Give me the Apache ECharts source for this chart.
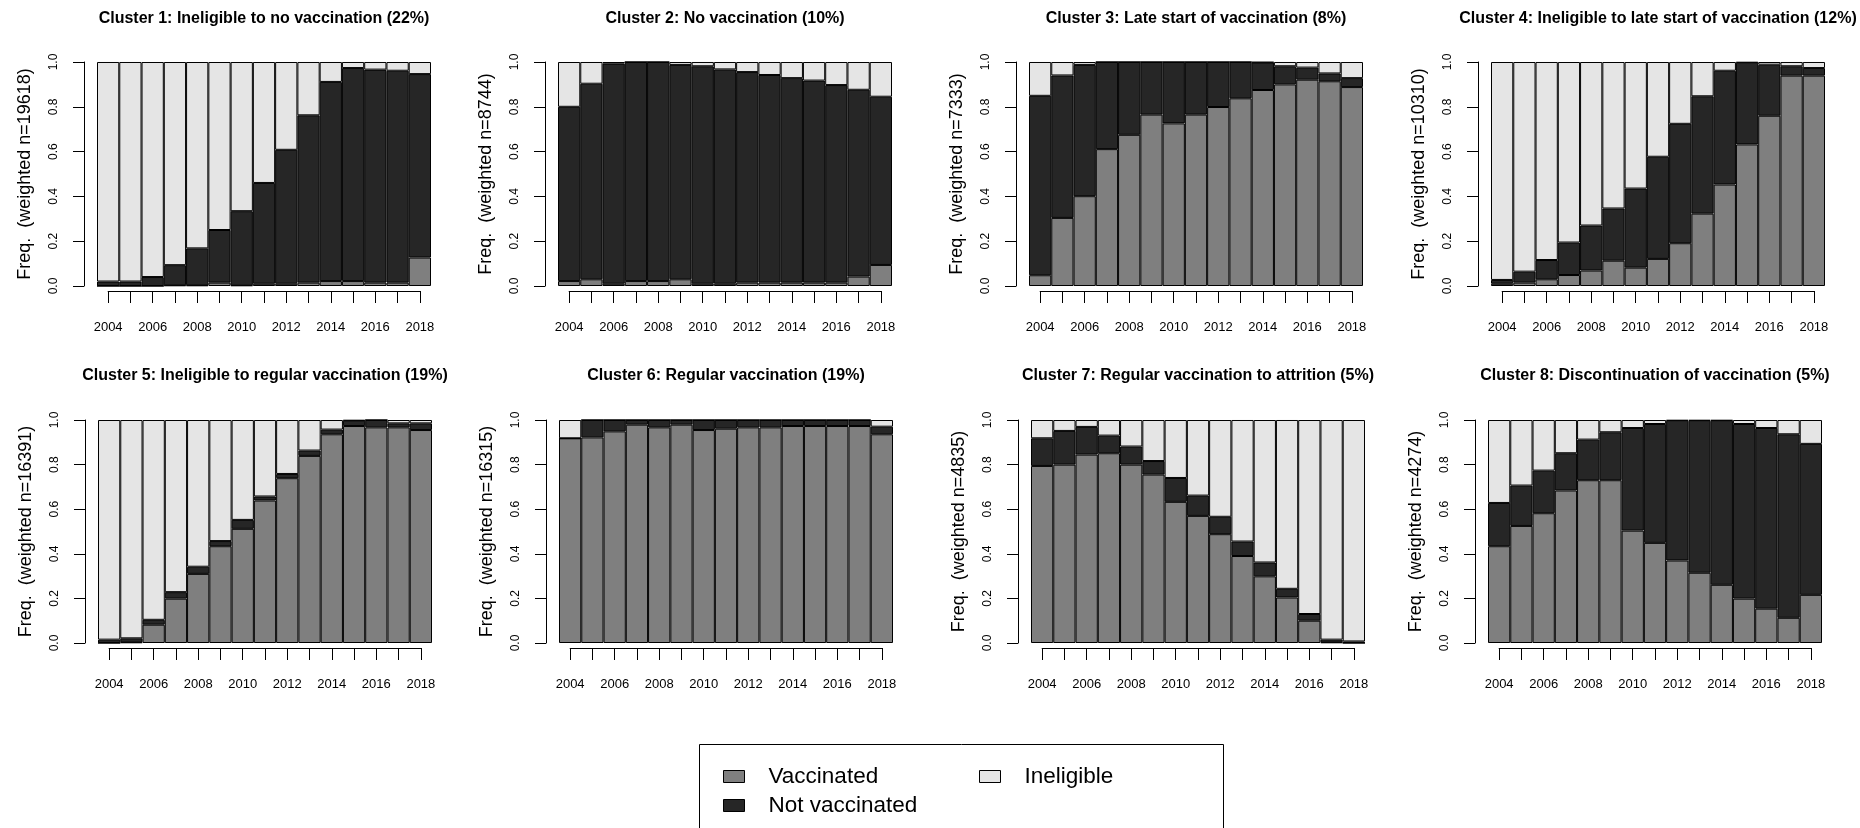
<!DOCTYPE html>
<html>
<head>
<meta charset="utf-8">
<script src="https://cdn.jsdelivr.net/npm/echarts/dist/echarts.min.js"></script>
<style>
  html, body { margin: 0; padding: 0; background: #fff; }
  #chart { width: 1860px; height: 828px; }
</style>
</head>
<body>
<div id="chart"></div>
<script>
// ---------- DATA ----------
const years = ['2004','2005','2006','2007','2008','2009','2010','2011','2012','2013','2014','2015','2016','2017','2018'];
const yTicks = [0, 0.2, 0.4, 0.6, 0.8, 1.0];
const stateNames = ['Vaccinated', 'Not vaccinated', 'Ineligible'];

const clusterTitles = [
  'Cluster 1: Ineligible to no vaccination (22%)',
  'Cluster 2: No vaccination (10%)',
  'Cluster 3: Late start of vaccination (8%)',
  'Cluster 4: Ineligible to late start of vaccination (12%)',
  'Cluster 5: Ineligible to regular vaccination (19%)',
  'Cluster 6: Regular vaccination (19%)',
  'Cluster 7: Regular vaccination to attrition (5%)',
  'Cluster 8: Discontinuation of vaccination (5%)'
];
const weightedN = [19618, 8744, 7333, 10310, 16391, 16315, 4835, 4274];

const c1Vaccinated    = [0.000,0.000,0.000,0.003,0.003,0.015,0.003,0.010,0.010,0.015,0.022,0.022,0.015,0.015,0.127];
const c1NotVaccinated = [0.020,0.020,0.040,0.090,0.165,0.235,0.331,0.450,0.598,0.747,0.889,0.951,0.951,0.946,0.819];
const c1Ineligible    = [0.980,0.980,0.960,0.907,0.832,0.750,0.666,0.540,0.392,0.238,0.089,0.027,0.034,0.039,0.054];

const c2Vaccinated    = [0.022,0.030,0.010,0.022,0.022,0.030,0.010,0.010,0.015,0.015,0.015,0.015,0.015,0.042,0.094];
const c2NotVaccinated = [0.778,0.873,0.983,0.978,0.978,0.957,0.971,0.957,0.940,0.927,0.913,0.902,0.882,0.834,0.751];
const c2Ineligible    = [0.200,0.097,0.007,0.000,0.000,0.013,0.019,0.033,0.045,0.058,0.072,0.083,0.103,0.124,0.155];

const c3Vaccinated    = [0.048,0.304,0.401,0.611,0.675,0.765,0.726,0.765,0.799,0.838,0.875,0.900,0.921,0.914,0.888];
const c3NotVaccinated = [0.801,0.636,0.586,0.389,0.325,0.235,0.274,0.235,0.201,0.162,0.123,0.081,0.054,0.035,0.040];
const c3Ineligible    = [0.151,0.060,0.013,0.000,0.000,0.000,0.000,0.000,0.000,0.000,0.002,0.019,0.025,0.051,0.072];

const c4Vaccinated    = [0.010,0.015,0.030,0.049,0.069,0.113,0.082,0.121,0.191,0.323,0.453,0.632,0.760,0.939,0.939];
const c4NotVaccinated = [0.017,0.049,0.086,0.145,0.201,0.233,0.353,0.456,0.533,0.524,0.508,0.365,0.228,0.042,0.034];
const c4Ineligible    = [0.973,0.936,0.884,0.806,0.730,0.654,0.565,0.423,0.276,0.153,0.039,0.003,0.012,0.019,0.027];

const c5Vaccinated    = [0.000,0.003,0.082,0.199,0.310,0.434,0.512,0.639,0.739,0.839,0.936,0.973,0.967,0.967,0.955];
const c5NotVaccinated = [0.015,0.018,0.022,0.029,0.032,0.023,0.040,0.018,0.019,0.024,0.021,0.024,0.033,0.018,0.030];
const c5Ineligible    = [0.985,0.979,0.896,0.772,0.658,0.543,0.448,0.343,0.242,0.137,0.043,0.003,0.000,0.015,0.015];

const c6Vaccinated    = [0.918,0.922,0.949,0.979,0.967,0.979,0.955,0.961,0.967,0.967,0.973,0.973,0.973,0.973,0.936];
const c6NotVaccinated = [0.000,0.078,0.051,0.021,0.033,0.021,0.045,0.039,0.033,0.033,0.027,0.027,0.027,0.027,0.034];
const c6Ineligible    = [0.082,0.000,0.000,0.000,0.000,0.000,0.000,0.000,0.000,0.000,0.000,0.000,0.000,0.000,0.030];

const c7Vaccinated    = [0.794,0.800,0.845,0.851,0.800,0.755,0.633,0.570,0.488,0.390,0.299,0.204,0.100,0.003,0.000];
const c7NotVaccinated = [0.124,0.151,0.124,0.079,0.081,0.061,0.107,0.091,0.078,0.065,0.062,0.039,0.030,0.012,0.007];
const c7Ineligible    = [0.082,0.049,0.031,0.070,0.119,0.184,0.260,0.339,0.434,0.545,0.639,0.757,0.870,0.985,0.993];

const c8Vaccinated    = [0.434,0.525,0.582,0.684,0.730,0.730,0.504,0.449,0.370,0.315,0.261,0.199,0.154,0.113,0.216];
const c8NotVaccinated = [0.194,0.181,0.191,0.167,0.182,0.215,0.460,0.533,0.627,0.682,0.736,0.783,0.810,0.823,0.677];
const c8Ineligible    = [0.372,0.294,0.227,0.149,0.088,0.055,0.036,0.018,0.003,0.003,0.003,0.018,0.036,0.064,0.107];

const clusters = [
  [c1Vaccinated, c1NotVaccinated, c1Ineligible],
  [c2Vaccinated, c2NotVaccinated, c2Ineligible],
  [c3Vaccinated, c3NotVaccinated, c3Ineligible],
  [c4Vaccinated, c4NotVaccinated, c4Ineligible],
  [c5Vaccinated, c5NotVaccinated, c5Ineligible],
  [c6Vaccinated, c6NotVaccinated, c6Ineligible],
  [c7Vaccinated, c7NotVaccinated, c7Ineligible],
  [c8Vaccinated, c8NotVaccinated, c8Ineligible]
];

// ---------- STYLE / LAYOUT ----------
const FONT = '"Liberation Sans", Arial, sans-serif';
const stateColors = ['#7f7f7f', '#262626', '#e5e5e5'];
const plotLeft  = [97, 558, 1029, 1491, 98, 559, 1031, 1488];
const plotWidth = 334;
const rowTop    = [62, 420];
const rowHeight = [224, 223];
const xAxisLineY = [291, 648];
const titleY = [11, 368];
const yAxisOffset = 13;

const chart = echarts.init(document.getElementById('chart'), null, { renderer: 'canvas' });

const grid = [], xAxis = [], yAxis = [], series = [], title = [];
clusters.forEach((cl, k) => {
  const row = k < 4 ? 0 : 1;
  const L = plotLeft[k];
  const W = plotWidth;
  const bw = W / years.length;
  // plot grid
  grid.push({ left: L, top: rowTop[row], width: W, height: rowHeight[row] });
  // axis-only grid (R style detached x axis from first to last bar center)
  grid.push({ left: L + bw / 2, top: xAxisLineY[row] - 1, width: W - bw, height: 1 });

  xAxis.push({ gridIndex: 2 * k, type: 'category', data: years, show: false, boundaryGap: true });
  xAxis.push({
    gridIndex: 2 * k + 1, type: 'category', data: years, boundaryGap: false,
    axisLine: { show: true, lineStyle: { color: '#000', width: 1 } },
    axisTick: { show: true, length: 12, interval: 0, lineStyle: { color: '#000', width: 1 } },
    axisLabel: { interval: 1, margin: 30, fontSize: 13, color: '#000', fontFamily: FONT },
    splitLine: { show: false }
  });

  yAxis.push({
    gridIndex: 2 * k, type: 'value', min: yTicks[0], max: yTicks[yTicks.length - 1], interval: 0.2,
    offset: yAxisOffset,
    name: 'Freq.  (weighted n=' + weightedN[k] + ')',
    nameLocation: 'middle', nameRotate: 90, nameGap: 50,
    nameTextStyle: { fontSize: 18, color: '#000', fontFamily: FONT },
    axisLine: { show: true, lineStyle: { color: '#000', width: 1 } },
    axisTick: { show: true, length: 11, lineStyle: { color: '#000', width: 1 } },
    axisLabel: { rotate: 90, margin: 24, fontSize: 12, color: '#000', fontFamily: FONT,
                 formatter: v => v.toFixed(1) },
    splitLine: { show: false }
  });
  yAxis.push({ gridIndex: 2 * k + 1, type: 'value', show: false, min: 0, max: 1 });

  cl.forEach((vals, s) => {
    series.push({
      type: 'bar', name: stateNames[s], stack: 'cluster' + k,
      xAxisIndex: 2 * k, yAxisIndex: 2 * k,
      data: vals, barCategoryGap: '0%',
      itemStyle: { color: stateColors[s], borderColor: '#000', borderWidth: 1 },
      emphasis: { disabled: true },
      animation: false
    });
  });

  title.push({
    text: clusterTitles[k], left: L + W / 2, top: titleY[row], textAlign: 'center', padding: 0,
    textStyle: { fontSize: 16, fontWeight: 'bold', color: '#000', fontFamily: FONT }
  });
});

const legendCommon = {
  orient: 'vertical', itemWidth: 21, itemHeight: 12, itemGap: 6, padding: 0, icon: 'rect',
  textStyle: { fontSize: 22.5, lineHeight: 23, color: '#000', fontFamily: FONT, padding: [0, 0, 0, 19] },
  itemStyle: { borderColor: '#000', borderWidth: 1 }
};

chart.setOption({
  animation: false,
  backgroundColor: '#fff',
  title: title,
  grid: grid,
  xAxis: xAxis,
  yAxis: yAxis,
  series: series,
  legend: [
    Object.assign({}, legendCommon, { data: ['Vaccinated', 'Not vaccinated'], left: 723, top: 765 }),
    Object.assign({}, legendCommon, { data: ['Ineligible'], left: 979, top: 765 })
  ],
  graphic: [{
    type: 'rect', left: 697, top: 742, silent: true,
    shape: { width: 524, height: 130 },
    style: { fill: 'none', stroke: '#000', lineWidth: 1 }
  }]
});
</script>
</body>
</html>
